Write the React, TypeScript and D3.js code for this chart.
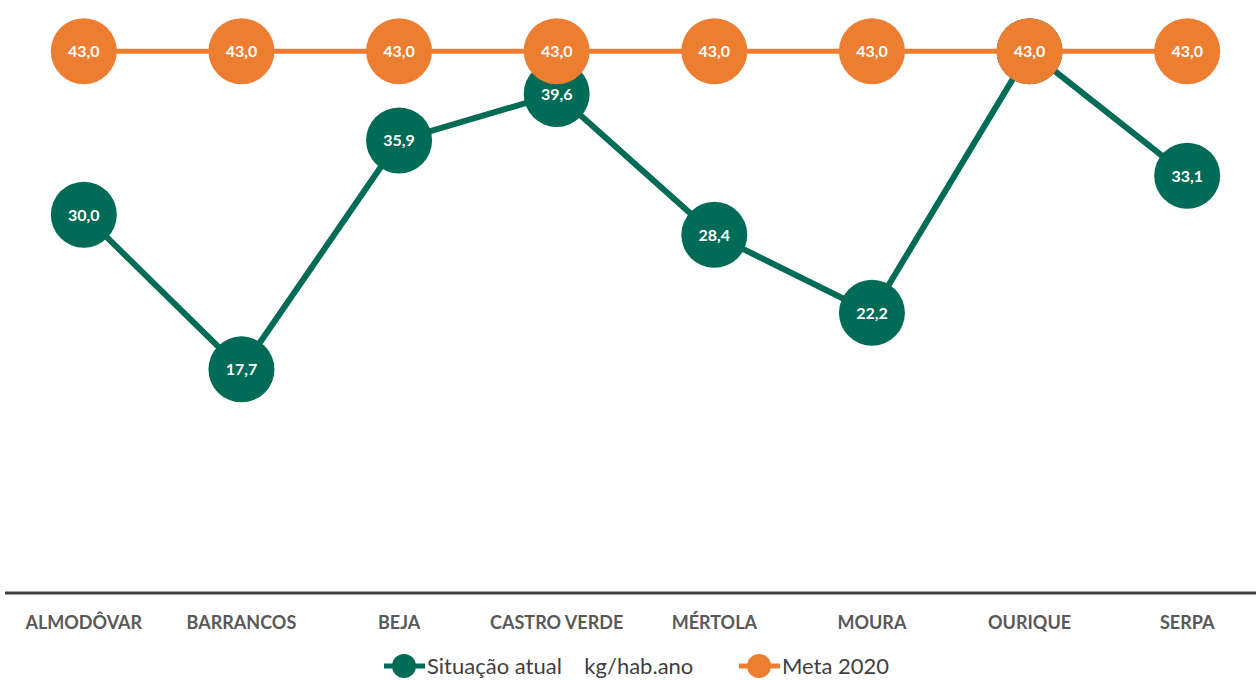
import { useEffect, useRef } from 'react';
import * as d3 from 'd3';

const municipios = ['ALMODÔVAR', 'BARRANCOS', 'BEJA', 'CASTRO VERDE', 'MÉRTOLA', 'MOURA', 'OURIQUE', 'SERPA'];
const situacaoAtual = [30.0, 17.7, 35.9, 39.6, 28.4, 22.2, 43.0, 33.1];
const meta2020 = [43.0, 43.0, 43.0, 43.0, 43.0, 43.0, 43.0, 43.0];
const seriesNames = ['Situação atual    kg/hab.ano', 'Meta 2020'];

const GREEN = '#006B56';
const ORANGE = '#ED7D31';

const App = () => {
  const ref = useRef<SVGSVGElement>(null);

  useEffect(() => {
    if (!ref.current) return;
    const svg = d3.select(ref.current);
    svg.selectAll('*').remove();

    const W = 1256;
    const H = 680;
    const font = 'Lato, "Noto Sans", sans-serif';

    // bands run slightly past the right edge, like the original chart
    const x = d3.scaleBand().domain(municipios).range([5, 1266]);
    const y = d3.scaleLinear().domain([0, 45]).range([592, 26]);
    const cx = (d: string) => (x(d) || 0) + x.bandwidth() / 2;

    svg.attr('width', W).attr('height', H);

    // axis line
    svg.append('line')
      .attr('x1', 5).attr('x2', W)
      .attr('y1', 593).attr('y2', 593)
      .attr('stroke', '#404040').attr('stroke-width', 3);

    // category labels
    svg.append('g')
      .selectAll('text')
      .data(municipios)
      .enter()
      .append('text')
      .attr('x', (d) => cx(d))
      .attr('y', 629)
      .attr('text-anchor', 'middle')
      .attr('font-family', font)
      .attr('font-weight', 'bold')
      .attr('font-size', 18)
      .attr('fill', '#595959')
      .text((d) => d);

    const series = [
      { name: seriesNames[0], values: situacaoAtual, color: GREEN, width: 6 },
      { name: seriesNames[1], values: meta2020, color: ORANGE, width: 5 },
    ];

    const line = d3.line<number>()
      .x((_, i) => cx(municipios[i]))
      .y((d) => y(d));

    series.forEach((s) => {
      const g = svg.append('g');
      g.append('path')
        .datum(s.values)
        .attr('d', line)
        .attr('fill', 'none')
        .attr('stroke', s.color)
        .attr('stroke-width', s.width)
        .attr('stroke-linejoin', 'round');

      g.selectAll('circle')
        .data(s.values)
        .enter()
        .append('circle')
        .attr('cx', (_, i) => cx(municipios[i]))
        .attr('cy', (d) => y(d))
        .attr('r', 33)
        .attr('fill', s.color);

      g.selectAll('text')
        .data(s.values)
        .enter()
        .append('text')
        .attr('x', (_, i) => cx(municipios[i]))
        .attr('y', (d) => y(d) + 6)
        .attr('text-anchor', 'middle')
        .attr('font-family', font)
        .attr('font-weight', 'bold')
        .attr('font-size', 16)
        .attr('fill', '#ffffff')
        .text((d) => d.toFixed(1).replace('.', ','));
    });

    // legend
    const legend = svg.append('g').attr('font-family', font).attr('font-size', 22).attr('fill', '#404040');
    const items = [
      { name: seriesNames[0], color: GREEN, x0: 384 },
      { name: seriesNames[1], color: ORANGE, x0: 739 },
    ];
    items.forEach((it) => {
      legend.append('line')
        .attr('x1', it.x0).attr('x2', it.x0 + 41)
        .attr('y1', 666).attr('y2', 666)
        .attr('stroke', it.color).attr('stroke-width', 5);
      legend.append('circle')
        .attr('cx', it.x0 + 20).attr('cy', 666).attr('r', 12)
        .attr('fill', it.color);
      legend.append('text')
        .attr('x', it.x0 + 43).attr('y', 674)
        .attr('xml:space', 'preserve')
        .style('white-space', 'pre')
        .text(it.name);
    });
  }, []);

  return (
    <div style={{ position: 'absolute', left: 0, top: 0, background: '#fff' }}>
      <svg ref={ref} style={{ display: 'block' }}></svg>
    </div>
  );
};

export default App;
